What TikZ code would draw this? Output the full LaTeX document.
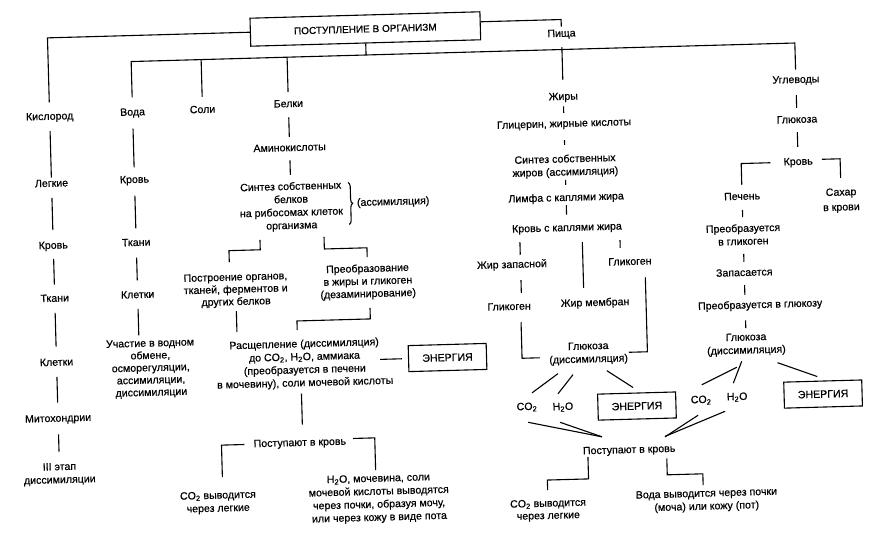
\documentclass[tikz,border=0pt]{standalone}
\usepackage{fontspec}
\setmainfont{Liberation Sans}[FakeBold=0.5]
\usetikzlibrary{decorations.pathreplacing}
\newcommand\dfont{\fontsize{10.6}{13}\selectfont}
\newcommand\firstline{\rule{0pt}{7.5pt}}
\newcommand\subtwo{\textsubscript{2}}
\begin{document}
\begin{tikzpicture}[x=1pt,y=-1pt,
  lbl/.style={font=\dfont, inner sep=1pt, text height=7.5pt, text depth=1.5pt},
  blk/.style={font=\dfont, inner sep=1pt, align=center, anchor=north, execute at begin node=\firstline},
  ebox/.style={draw, line width=1.1pt, minimum width=78pt, minimum height=26pt, inner sep=1pt, font=\dfont},
  topbox/.style={draw, line width=1.1pt, minimum width=230pt, minimum height=28pt, inner sep=1pt, font=\fontsize{10}{12}\selectfont}
]
\path[fill=white] (0,0) rectangle (881,534);
\begin{scope}[rotate around={1.6:(440,267)}, transform shape]
\node[topbox] (box) at (372,27) {ПОСТУПЛЕНИЕ В ОРГАНИЗМ};

% left column
\node[lbl] (kisl) at (54,106) {Кислород};
\node[lbl] (legk) at (54,173) {Легкие};
\node[lbl] (krov1) at (54,235) {Кровь};
\node[lbl] (tkani1) at (54,288) {Ткани};
\node[lbl] (kletki1) at (54,352) {Клетки};
\node[lbl] (mito) at (54,408) {Митохондрии};
\node[blk] (etap) at (54,451) {III этап\\диссимиляции};

% water
\node[lbl] (voda) at (137,104) {Вода};
\node[lbl] (krov2) at (137,171.5) {Кровь};
\node[lbl] (tkani2) at (137,234.5) {Ткани};
\node[lbl] (kletki2) at (137,286.7) {Клетки};
\node[blk, font=\fontsize{10.6}{12.3}\selectfont] (uchast) at (148,330) {Участие в водном\\обмене,\\осморегуляции,\\ассимиляции,\\диссимиляции};
\node[lbl] (soli) at (207,103.4) {Соли};

% proteins
\node[lbl] (belki) at (293,100) {Белки};
\node[lbl] (amino) at (293,144) {Аминокислоты};
\node[blk] (syn) at (293,176.8) {Синтез собственных\\белков\\на рибосомах клеток\\организма};
\node[lbl] (assim) at (395,200.7) {(ассимиляция)};
\node[blk, font=\fontsize{10.6}{12.3}\selectfont] (postr) at (235.2,266.3) {Построение органов,\\тканей, ферментов и\\других белков};
\node[blk, font=\fontsize{10.6}{12.6}\selectfont] (preobr) at (367.5,261) {Преобразование\\в жиры и гликоген\\(дезаминирование)};
\node[blk] (rassh) at (302,334.5) {Расщепление (диссимиляция)\\до CO\subtwo, H\subtwo O, аммиака\\(преобразуется в печени\\в мочевину), соли мочевой кислоты};
\node[ebox] (energy1) at (445,357.7) {ЭНЕРГИЯ};
\node[lbl] (post1) at (295,439) {Поступают в кровь};
\node[blk] (co2l) at (211.6,483.8) {CO\subtwo{} выводится\\через легкие};
\node[blk] (h2ol) at (372.5,471.3) {H\subtwo O, мочевина, соли\\мочевой кислоты выводятся\\через почки, образуя мочу,\\или через кожу в виде пота};

% fats
\node[lbl] (pisha) at (568,37.3) {Пища};
\node[lbl] (zhiry) at (568,100.4) {Жиры};
\node[lbl] (glic) at (568,127.5) {Глицерин, жирные кислоты};
\node[blk] (synzh) at (568,157) {Синтез собственных\\жиров (ассимиляция)};
\node[lbl] (limfa) at (568,201.5) {Лимфа с каплями жира};
\node[lbl] (krovzh) at (568,231.6) {Кровь с каплями жира};
\node[lbl] (zapas) at (512,267) {Жир запасной};
\node[lbl] (glikR) at (630,267.3) {Гликоген};
\node[lbl] (glikL) at (508,309) {Гликоген};
\node[lbl] (membr) at (594,307.3) {Жир мембран};
\node[blk] (glukzh) at (586,345.1) {Глюкоза\\(диссимиляция)};
\node[lbl] (co2a) at (523,409.4) {CO\subtwo};
\node[lbl] (h2oa) at (559,410.4) {H\subtwo O};
\node[ebox] (energy2) at (633,411.5) {ЭНЕРГИЯ};
\node[lbl] (post2) at (624,455.3) {Поступают в кровь};
\node[blk, font=\fontsize{10.6}{12.3}\selectfont] (co2r) at (541.4,501) {CO\subtwo{} выводится\\через легкие};
\node[blk] (voda2) at (700,495.5) {Вода выводится через почки\\(моча) или кожу (пот)};

% carbohydrates
\node[lbl] (ugl) at (801,90) {Углеводы};
\node[lbl] (gluk) at (801,130) {Глюкоза};
\node[lbl] (krov3) at (801,172) {Кровь};
\node[lbl] (pechen) at (744,205.3) {Печень};
\node[blk, font=\fontsize{10.6}{15}\selectfont] (sahar) at (843,198.2) {Сахар\\в крови};
\node[blk] (pregl) at (744,231.4) {Преобразуется\\в гликоген};
\node[lbl] (zapasaet) at (744,281.5) {Запасается};
\node[lbl] (preglu) at (759,314) {Преобразуется в глюкозу};
\node[blk] (glukug) at (744,340.6) {Глюкоза\\(диссимиляция)};
\node[lbl] (co2b) at (697.3,407.3) {CO\subtwo};
\node[lbl] (h2ob) at (733.4,405.3) {H\subtwo O};
\node[ebox] (energy3) at (819.4,404.7) {ЭНЕРГИЯ};

\coordinate (bus) at (0,53);
\coordinate (e1end) at (377.5,357.7);

\begin{scope}[line width=1.1pt]
% top
\draw[shorten >=8.7pt] (box.west) -| (kisl);
\draw (box.south) -- (box.south |- bus);
\draw[shorten <=9.5pt, shorten >=4.6pt] (voda) -- (voda |- bus) -- (ugl |- bus) -- (ugl);
\draw[shorten >=7.5pt] (soli |- bus) -- (soli);
\draw[shorten >=6.6pt] (belki |- bus) -- (belki);
\draw[shorten >=1.5pt] ([yshift=4pt]box.east) -| (pisha);
\draw[shorten <=7.5pt, shorten >=11.5pt] (pisha) -- (zhiry);

% left column
\draw[shorten <=8.5pt, shorten >=0.5pt] (kisl) -- (legk);
\draw[shorten <=8.5pt, shorten >=10pt] (legk) -- (krov1);
\draw[shorten <=7.5pt, shorten >=8.5pt] (krov1) -- (tkani1);
\draw[shorten <=8.5pt, shorten >=10.5pt] (tkani1) -- (kletki1);
\draw[shorten <=8.5pt, shorten >=10.5pt] (kletki1) -- (mito);
\draw[shorten <=10pt, shorten >=10pt] (mito) -- (etap);

% water
\draw[shorten <=10.5pt, shorten >=7pt] (voda) -- (krov2);
\draw[shorten <=10pt, shorten >=9pt] (krov2) -- (tkani2);
\draw[shorten <=9pt, shorten >=9pt] (tkani2) -- (kletki2);
\draw[shorten <=8pt, shorten >=3pt] (kletki2) -- (kletki2 |- uchast.north);

% proteins
\draw[shorten <=7.5pt, shorten >=5.5pt] (belki) -- (amino);
\draw[shorten <=6.5pt, shorten >=6pt] (amino) -- (syn);
\draw[decorate, decoration={brace, amplitude=4pt}] (350.5,180) -- (350.5,222);
\draw ([xshift=-32.2pt, yshift=-6.6pt]syn.south) -- ++(0,10) -| ([xshift=-5.7pt, yshift=10pt]postr.north);
\draw ([xshift=31.9pt, yshift=-5.4pt]syn.south) -- ++(0,12.2) -| ([yshift=6pt]preobr.north);
\draw[shorten <=2.7pt, shorten >=8pt] (postr.south) -- (postr.south |- rassh.north);
\draw ([xshift=1.4pt, yshift=-7.4pt]preobr.south) -- ++(0,11) -| ([xshift=-6.5pt, yshift=8.5pt]rassh.north);
\draw[shorten >=6pt] (e1end) -- (energy1.west);
\draw[shorten <=4pt, shorten >=12.5pt] ([xshift=-4pt]rassh.south) -- ([xshift=-4pt]rassh.south |- post1.north);
\draw[shorten <=8pt, shorten >=12.8pt] (post1.west) -| ([xshift=5pt]co2l.north);
\draw[shorten <=6pt, shorten >=3pt] ([yshift=3pt]post1.east) -| ([xshift=-2.5pt]h2ol.north);

% fats
\draw[shorten <=3.7pt, shorten >=5.4pt] (zhiry) -- (glic);
\draw[shorten <=10.5pt, shorten >=8.5pt] (glic) -- (synzh);
\draw[shorten <=1pt, shorten >=7.5pt] (synzh) -- (limfa);
\draw[shorten <=1.5pt, shorten >=7.6pt] (limfa) -- (krovzh);
\draw[shorten <=7.1pt, shorten >=4.3pt] ([xshift=8.6pt]zapas.north |- krovzh.south) -- ([xshift=8.6pt]zapas.north);
\draw[shorten <=8.9pt, shorten >=9.8pt] ([xshift=-11pt]membr.north |- krovzh.south) -- ([xshift=-11pt]membr.north);
\draw[shorten <=7.9pt, shorten >=8.8pt] ([xshift=-9.3pt]glikR.north |- krovzh.south) -- ([xshift=-9.3pt]glikR.north);
\draw[shorten <=9.8pt, shorten >=8.2pt] ([xshift=8.6pt]zapas.south) -- ([xshift=8.6pt]zapas.south |- glikL.north);
\draw ([xshift=11.5pt, yshift=-9.8pt]glikL.south) |- ([xshift=-8.5pt, yshift=-3pt]glukzh.west);
\draw ([xshift=15pt, yshift=-10pt]glikR.south) |- (glukzh.east);
\draw ([xshift=-31pt, yshift=-6.9pt]glukzh.south) -- ([xshift=5.5pt, yshift=8.3pt]co2a.north);
\draw ([xshift=-16pt, yshift=-8.3pt]glukzh.south) -- ([xshift=-4.6pt, yshift=7.6pt]h2oa.north);
\draw ([xshift=17.9pt, yshift=-5.3pt]glukzh.south) -- ([xshift=-3.4pt, yshift=5.1pt]energy2.north);
\draw ([xshift=0.7pt, yshift=-9.6pt]co2a.south) -- ([xshift=-26.8pt, yshift=8.3pt]post2.north);
\draw ([xshift=-3.3pt, yshift=-9.5pt]h2oa.south) -- ([xshift=-26.8pt, yshift=8.3pt]post2.north);
\draw ([xshift=-3.4pt, yshift=-9.4pt]co2b.south) -- ([xshift=36.2pt, yshift=6.5pt]post2.north);
\draw ([xshift=-12.4pt, yshift=-8.2pt]h2ob.south) -- ([xshift=36.3pt, yshift=7pt]post2.north);
\draw ([xshift=6pt]post2.south west) -- ++(0,22) -| ([yshift=8pt]co2r.north);
\draw ([xshift=-10pt, yshift=-3.6pt]post2.south east) -- ++(0,16.5) -| ([xshift=-3pt, yshift=3pt]voda2.north);

% carbohydrates
\draw[shorten <=9.5pt, shorten >=6.5pt] (ugl) -- (gluk);
\draw[shorten <=6.5pt, shorten >=9.5pt] (gluk) -- (krov3);
\draw[shorten <=12pt, shorten >=6.4pt] (krov3.west) -| (pechen);
\draw[shorten <=8pt, shorten >=9pt] ([yshift=2pt]krov3.east) -| (sahar.north);
\draw[shorten <=7.7pt, shorten >=5.9pt] (pechen) -- (pregl);
\draw[shorten <=7.8pt, shorten >=5.5pt] (pregl) -- (zapasaet);
\draw[shorten <=6.5pt, shorten >=5pt] (zapasaet) -- (zapasaet |- preglu.north);
\draw[shorten <=9.1pt, shorten >=4pt] (glukug.north |- preglu.south) -- (glukug.north);
\draw ([xshift=-10pt, yshift=-10pt]glukug.south) -- ([xshift=1.1pt, yshift=9.5pt]co2b.north);
\draw ([xshift=-5pt, yshift=-4.2pt]glukug.south) -- ([xshift=-3.4pt, yshift=8.3pt]h2ob.north);
\draw ([xshift=-9.7pt, yshift=-6.6pt]glukug.south east) -- ([xshift=-5.3pt, yshift=4.1pt]energy3.north);
\end{scope}
\end{scope}
\end{tikzpicture}
\end{document}
